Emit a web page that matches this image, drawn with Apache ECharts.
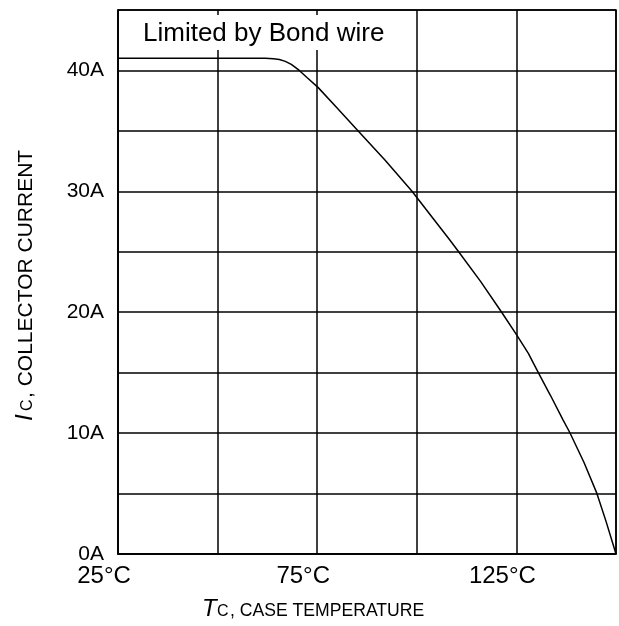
<!DOCTYPE html>
<html>
<head>
<meta charset="utf-8">
<script src="https://cdn.jsdelivr.net/npm/echarts@6/dist/echarts.min.js"></script>
<style>
html,body{margin:0;padding:0;background:#fff;}
#chart{width:619px;height:626px;}
</style>
</head>
<body>
<div id="chart"></div>
<script>
// Case temperature (°C) and collector current (A)
const caseTemp = [25, 62, 64, 65.5, 67, 68.5, 70.5, 72.5, 75.2, 80, 85, 92, 98.8, 104, 108, 110.5, 116, 121.3, 125.1, 128, 130.5, 133.5, 136.7, 138.4, 142, 145.1, 147.5, 150];
const collectorCurrent = [41.0, 41.0, 40.97, 40.9, 40.75, 40.5, 40.0, 39.4, 38.6, 36.9, 35.1, 32.6, 30.0, 27.8, 26.1, 25.0, 22.55, 20.0, 18.1, 16.6, 15.0, 13.15, 11.1, 10.05, 7.55, 5.1, 2.7, 0];
const xTickLabels = [25, 75, 125];
const yTickLabels = [0, 10, 20, 30, 40];
const annotation = 'Limited by Bond wire';

const FONT = '"Liberation Sans", Arial, sans-serif';
const chart = echarts.init(document.getElementById('chart'), null, {renderer: 'canvas'});

const points = caseTemp.map((t, i) => [t, collectorCurrent[i]]);

chart.setOption({
  animation: false,
  backgroundColor: '#fff',
  grid: {left: 118, top: 10, right: 0.5, bottom: 72, show: true, borderColor: '#000', borderWidth: 1.5, containLabel: false},
  xAxis: {
    type: 'value', min: 25, max: 150, interval: 25,
    axisLine: {show: true, lineStyle: {color: '#000', width: 1.5}},
    axisTick: {show: false},
    splitLine: {show: true, lineStyle: {color: '#000', width: 1.5}},
    axisLabel: {
      color: '#000', fontFamily: FONT, fontSize: 24, margin: 10,
      padding: [0, 28, 0, 0],
      formatter: v => xTickLabels.includes(v) ? v + '°C' : ''
    }
  },
  yAxis: {
    type: 'value', min: 0, max: 45, interval: 5,
    axisLine: {show: true, lineStyle: {color: '#000', width: 1.5}},
    axisTick: {show: false},
    splitLine: {show: true, lineStyle: {color: '#000', width: 1.5}},
    axisLabel: {
      color: '#000', fontFamily: FONT, fontSize: 21, margin: 14,
      padding: [0, 0, 4, 0],
      formatter: v => yTickLabels.includes(v) ? v + 'A' : ''
    }
  },
  series: [{
    type: 'line', data: points, showSymbol: false,
    smooth: false,
    lineStyle: {color: '#000', width: 1.5}, z: 5
  }],
  graphic: [
    {type: 'rect', z: 100, shape: {x: 135, y: 15, width: 260, height: 35}, style: {fill: '#fff'}},
    {type: 'text', z: 101, style: {x: 143, y: 34, text: annotation, font: '26px ' + FONT, fill: '#000', verticalAlign: 'middle'}},
    // X axis title
    {type: 'text', z: 101, style: {x: 202, y: 609, text: 'T', font: 'italic 24px ' + FONT, fill: '#000', verticalAlign: 'middle'}},
    {type: 'text', z: 101, style: {x: 217, y: 612, text: 'C', font: '16px ' + FONT, fill: '#000', verticalAlign: 'middle'}},
    {type: 'text', z: 101, style: {x: 230, y: 611, text: ', CASE TEMPERATURE', font: '17.6px ' + FONT, fill: '#000', verticalAlign: 'middle'}},
    // Y axis title (rotated)
    {type: 'group', z: 101, x: 33, y: 421, rotation: Math.PI / 2, children: [
      {type: 'text', z: 101, style: {x: 0, y: -8, text: 'I', font: 'italic 24px ' + FONT, fill: '#000', verticalAlign: 'middle'}},
      {type: 'text', z: 101, style: {x: 10, y: -5, text: 'C', font: '16px ' + FONT, fill: '#000', verticalAlign: 'middle'}},
      {type: 'text', z: 101, style: {x: 23, y: -7, text: ', COLLECTOR CURRENT', font: '21px ' + FONT, fill: '#000', verticalAlign: 'middle'}}
    ]}
  ]
});
</script>
</body>
</html>
